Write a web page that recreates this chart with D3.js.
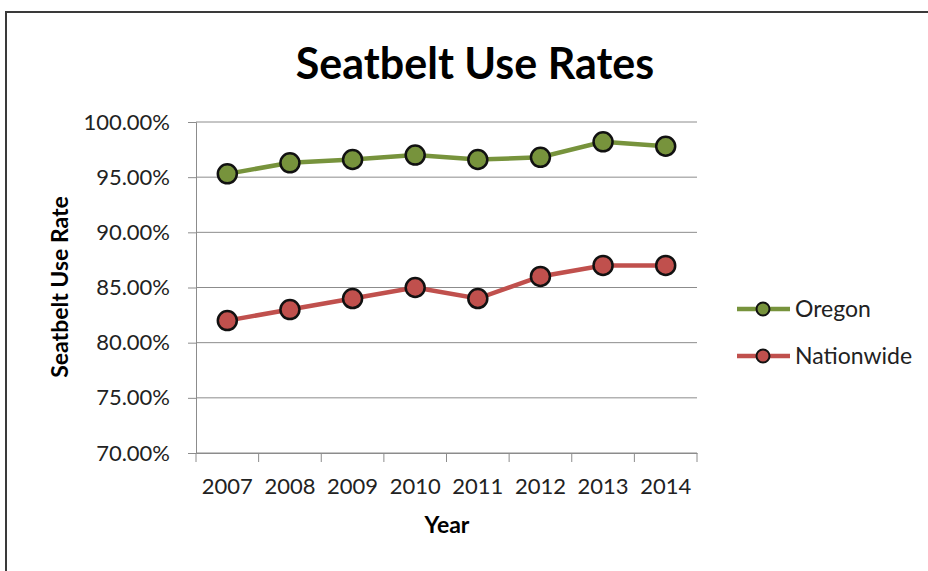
<!DOCTYPE html>
<html>
<head>
<meta charset="utf-8">
<script src="https://d3js.org/d3.v7.min.js"></script>
<style>
  body { margin:0; background:#fff; overflow:hidden; }
  svg { display:block; }
  text { font-family: Lato, "Open Sans", sans-serif; }
</style>
</head>
<body>
<div id="chart"></div>
<script>
var years = ["2007","2008","2009","2010","2011","2012","2013","2014"];
var oregon = [95.3, 96.3, 96.6, 97.0, 96.6, 96.8, 98.2, 97.8];
var nationwide = [82, 83, 84, 85, 84, 86, 87, 87];
var yTicks = [70, 75, 80, 85, 90, 95, 100];
var seriesNames = ["Oregon", "Nationwide"];
var seriesColors = ["#77933C", "#C0504D"];

var width = 928, height = 571;
var svg = d3.select("#chart").append("svg")
  .attr("width", width).attr("height", height);

// chart frame: only top and left edges are inside the window
svg.append("path")
  .attr("d", "M6,571V12H928")
  .attr("fill", "none").attr("stroke", "#3a3a3a").attr("stroke-width", 2);

var plot = {left:196, right:697, top:122, bottom:453};

var x = d3.scaleBand().domain(years).range([plot.left, plot.right]);
var y = d3.scaleLinear().domain([70, 100]).range([plot.bottom, plot.top]);

// gridlines
svg.append("g").selectAll("line").data(yTicks).enter().append("line")
  .attr("x1", plot.left).attr("x2", plot.right)
  .attr("y1", d => y(d)).attr("y2", d => y(d))
  .attr("stroke", "#8c8c8c").attr("stroke-width", 1);

// y axis
var yAxis = svg.append("g")
  .attr("transform", "translate(" + plot.left + ",0)")
  .call(d3.axisLeft(y).tickValues(yTicks).tickSize(8).tickPadding(18)
    .tickFormat(d => d.toFixed(2) + "%"));
yAxis.select(".domain").attr("stroke", "#8c8c8c");
yAxis.selectAll(".tick line").attr("stroke", "#8c8c8c").attr("x2", -8);
yAxis.selectAll("text").attr("font-size", 22).attr("fill", "#222")
  .style("font-family", "Lato, sans-serif");

// x axis
var xAxis = svg.append("g")
  .attr("transform", "translate(0," + plot.bottom + ")")
  .call(d3.axisBottom(x).tickSize(0).tickPadding(25));
xAxis.select(".domain").attr("stroke", "#8c8c8c");
xAxis.selectAll("text").attr("font-size", 22).attr("fill", "#222")
  .style("font-family", "Lato, sans-serif");
// category boundary ticks
var bounds = years.map(d => x(d)).concat([x.range()[1]]);
xAxis.selectAll(".bound").data(bounds).enter().append("line")
  .attr("x1", d => d).attr("x2", d => d).attr("y1", 0).attr("y2", 9)
  .attr("stroke", "#8c8c8c");

// title and axis titles
svg.append("text").attr("x", 475).attr("y", 79).attr("text-anchor", "middle")
  .attr("font-size", 43).attr("font-weight", "bold").text("Seatbelt Use Rates");
svg.append("text").attr("x", 447).attr("y", 533).attr("text-anchor", "middle")
  .attr("font-size", 23).attr("font-weight", "bold").text("Year");
svg.append("text").attr("transform", "translate(68,287) rotate(-90)")
  .attr("text-anchor", "middle").attr("font-size", 23).attr("font-weight", "bold")
  .text("Seatbelt Use Rate");

var data = [oregon, nationwide];
var line = d3.line().x((d, i) => x(years[i]) + x.bandwidth() / 2).y(d => y(d));

data.forEach(function(vals, s) {
  svg.append("path").datum(vals)
    .attr("d", line).attr("fill", "none")
    .attr("stroke", seriesColors[s]).attr("stroke-width", 4.5);
  svg.append("g").selectAll("circle").data(vals).enter().append("circle")
    .attr("cx", (d, i) => x(years[i]) + x.bandwidth() / 2)
    .attr("cy", d => y(d))
    .attr("r", 9.5)
    .attr("fill", seriesColors[s]).attr("stroke", "#111").attr("stroke-width", 2.5);
});

// legend
var legend = svg.append("g").selectAll("g").data(seriesNames).enter().append("g")
  .attr("transform", (d, i) => "translate(737," + (309 + i * 47) + ")");
legend.append("line").attr("x1", 0).attr("x2", 53)
  .attr("stroke", (d, i) => seriesColors[i]).attr("stroke-width", 4.5);
legend.append("circle").attr("cx", 26).attr("r", 6.5)
  .attr("fill", (d, i) => seriesColors[i]).attr("stroke", "#111").attr("stroke-width", 2);
legend.append("text").attr("x", 58).attr("y", 8)
  .attr("font-size", 23).attr("fill", "#222").text(d => d);
</script>
</body>
</html>
